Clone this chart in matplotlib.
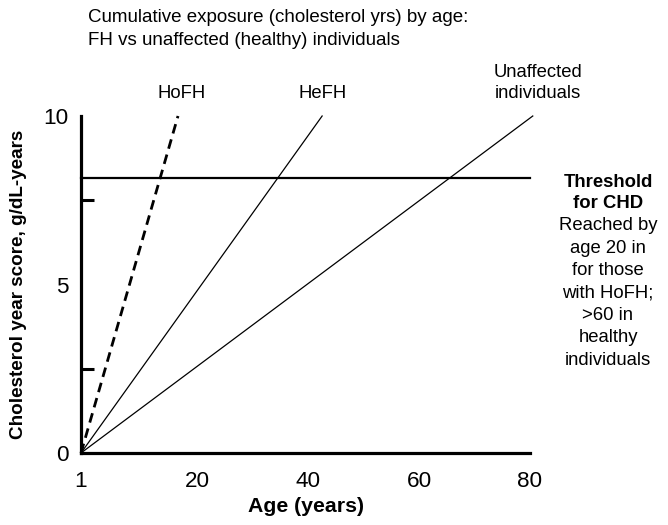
import matplotlib
matplotlib.use("Agg")
import matplotlib.pyplot as plt

plt.rcParams['font.family'] = ['Liberation Sans', 'DejaVu Sans']

# Data
origin_age = -1          # axis origin, labelled "1"
hofh_x = [origin_age, 16.5]
hofh_y = [0, 10]
hefh_x = [origin_age, 42.5]
hefh_y = [0, 10]
unaff_x = [origin_age, 80.5]
unaff_y = [0, 10]
threshold = 8.15
threshold_x = [origin_age, 80]

x_ticks = [origin_age, 20, 40, 60, 80]
x_tick_labels = ['1', '20', '40', '60', '80']
y_ticks = [0, 5, 10]
y_tick_labels = ['0', '5', '10']
y_minor = [2.5, 5, 7.5]
x_minor = [20, 40, 60, 80]

fig = plt.figure(figsize=(6.68, 5.25), dpi=100)
ax = fig.add_axes([81/668, 1-453/525, (530-81)/668, (453-116)/525])

ax.plot(hofh_x, hofh_y, color='black', lw=2.0, linestyle=(0, (3.5, 2.2)), clip_on=False)
ax.plot(hefh_x, hefh_y, color='black', lw=0.9, clip_on=False)
ax.plot(unaff_x, unaff_y, color='black', lw=0.9, clip_on=False)
ax.plot(threshold_x, [threshold, threshold], color='black', lw=1.6, clip_on=False)

ax.set_xlim(origin_age, 80)
ax.set_ylim(0, 10)

for s in ['top', 'right']:
    ax.spines[s].set_visible(False)
for s in ['left', 'bottom']:
    ax.spines[s].set_linewidth(2.3)
ax.spines['left'].set_capstyle('projecting')

ax.set_xticks(x_ticks)
ax.set_xticklabels(x_tick_labels)
ax.set_yticks(y_ticks)
ax.set_yticklabels(y_tick_labels)
ax.set_xticks(x_minor, minor=True)
ax.set_yticks(y_minor, minor=True)
ax.tick_params(axis='both', which='major', length=0, labelsize=16.2)
ax.tick_params(axis='x', which='major', pad=13)
ax.tick_params(axis='y', which='major', pad=9)
ax.tick_params(axis='both', which='minor', direction='in', length=9, width=2.2)

ax.set_xlabel('Age (years)', fontsize=15.3, fontweight='bold')
ax.xaxis.set_label_coords(0.5, -0.131)
ax.set_ylabel('Cholesterol year score, g/dL-years', fontsize=13.6, fontweight='bold')
ax.yaxis.set_label_coords(-0.12, 0.5)

fig.text(88/668, 1-29/525, 'Cumulative exposure (cholesterol yrs) by age:\nFH vs unaffected (healthy) individuals',
         fontsize=13.5, ha='left', va='center', linespacing=1.42)

fig.text(182/668, 1-94/525, 'HoFH', fontsize=13.3, ha='center', va='center')
fig.text(323/668, 1-94/525, 'HeFH', fontsize=13.3, ha='center', va='center')
fig.text(538/668, 1-83/525, 'Unaffected\nindividuals', fontsize=13.3, ha='center', va='center', linespacing=1.38)

fig.text(608/668, 1-193/525, 'Threshold\nfor CHD', fontsize=13.3, fontweight='bold',
         ha='center', va='center', linespacing=1.36)
fig.text(608/668, 1-293/525, 'Reached by\nage 20 in\nfor those\nwith HoFH;\n>60 in\nhealthy\nindividuals',
         fontsize=13.3, ha='center', va='center', linespacing=1.42)

fig.savefig('out.png', dpi=100)
